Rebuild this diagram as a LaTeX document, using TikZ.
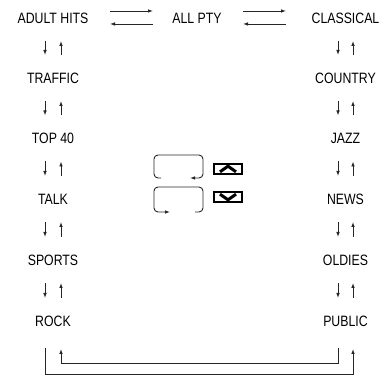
\documentclass[tikz,border=0pt]{standalone}
\usepackage{fontspec}
\setmainfont{Liberation Sans}[FakeStretch=0.82]
\usetikzlibrary{arrows.meta}
\begin{document}
\begin{tikzpicture}[x=1pt,y=1pt,
  lbl/.style={inner sep=0pt,text height=10.3pt,text depth=0pt,font=\fontsize{15}{17}\selectfont},
  conn/.style={line width=0.9pt,draw=black!85},
  arr/.style={conn,-{Latex[length=5pt,width=3.6pt]}},
  btn/.style={draw=black,line width=1.8pt,minimum width=28pt,minimum height=10.5pt,inner sep=0pt},
  chev/.style={line width=3pt,draw=black,miter limit=10},
]
\useasboundingbox (0,0) rectangle (386,383);
% left column
\node[lbl] (adult)   at (53,365)   {ADULT HITS};
\node[lbl] (traffic) at (53,305)   {TRAFFIC};
\node[lbl] (top40)   at (53,244.5) {TOP 40};
\node[lbl] (talk)    at (53,184)   {TALK};
\node[lbl] (sports)  at (53,123)   {SPORTS};
\node[lbl] (rock)    at (53,62)    {ROCK};
% centre
\node[lbl] (allpty)  at (197,365)  {ALL PTY};
% right column
\node[lbl] (classical) at (345.5,365)   {CLASSICAL};
\node[lbl] (country)   at (345.5,305)   {COUNTRY};
\node[lbl] (jazz)      at (345.5,244.5) {JAZZ};
\node[lbl] (news)      at (345.5,184)   {NEWS};
\node[lbl] (oldies)    at (345.5,123)   {OLDIES};
\node[lbl] (public)    at (345.5,62)    {PUBLIC};

% vertical arrow pairs
\foreach \a/\b in {adult/traffic,traffic/top40,top40/talk,talk/sports,sports/rock}{
  \draw[arr,shorten <=23pt,shorten >=23pt] ([xshift=-8pt]\a.center) -- ([xshift=-8pt]\b.center);
  \draw[arr,shorten <=23pt,shorten >=23pt] ([xshift=8pt]\b.center) -- ([xshift=8pt]\a.center);
}
\foreach \a/\b in {classical/country,country/jazz,jazz/news,news/oldies,oldies/public}{
  \draw[arr,shorten <=23pt,shorten >=23pt] ([xshift=-7.5pt]\a.center) -- ([xshift=-7.5pt]\b.center);
  \draw[arr,shorten <=23pt,shorten >=23pt] ([xshift=7.5pt]\b.center) -- ([xshift=7.5pt]\a.center);
}

% horizontal arrow pairs
\draw[arr,shorten <=57pt,shorten >=44pt] ([yshift=7pt]adult.center) -- ([yshift=7pt]allpty.center);
\draw[arr,shorten <=44pt,shorten >=57pt] ([yshift=-6pt]allpty.center) -- ([yshift=-6pt]adult.center);
\draw[arr,shorten <=46pt,shorten >=59.5pt] ([yshift=7pt]allpty.center) -- ([yshift=7pt]classical.center);
\draw[arr,shorten <=59.5pt,shorten >=46pt] ([yshift=-6pt]classical.center) -- ([yshift=-6pt]allpty.center);

% bottom loop connectors
\draw[arr] ([shift={(-7.5pt,-27pt)}]public.center) |- ([shift={(8pt,-42pt)}]rock.center)
           -- ([shift={(8pt,-28pt)}]rock.center);
\draw[arr] ([shift={(-8pt,-27pt)}]rock.center) |- ([shift={(7.5pt,-53pt)}]public.center)
           -- ([shift={(7.5pt,-28pt)}]public.center);

% rotary brackets
\draw[arr,rounded corners=4pt] (161,205) -- (154,205) -- (154,228) -- (203,228) -- (203,205) -- (190,205);
\draw[arr,rounded corners=4pt] (195,171) -- (203,171) -- (203,196) -- (154,196) -- (154,171) -- (170,171);

% buttons
\node[btn] (upbtn) at (228,214) {};
\node[btn] (dnbtn) at (228,186) {};
\draw[chev] ([shift={(-8pt,-2.8pt)}]upbtn.center) -- ([shift={(0pt,2.8pt)}]upbtn.center) -- ([shift={(8pt,-2.8pt)}]upbtn.center);
\draw[chev] ([shift={(-8pt,2.8pt)}]dnbtn.center) -- ([shift={(0pt,-2.8pt)}]dnbtn.center) -- ([shift={(8pt,2.8pt)}]dnbtn.center);
\end{tikzpicture}
\end{document}
